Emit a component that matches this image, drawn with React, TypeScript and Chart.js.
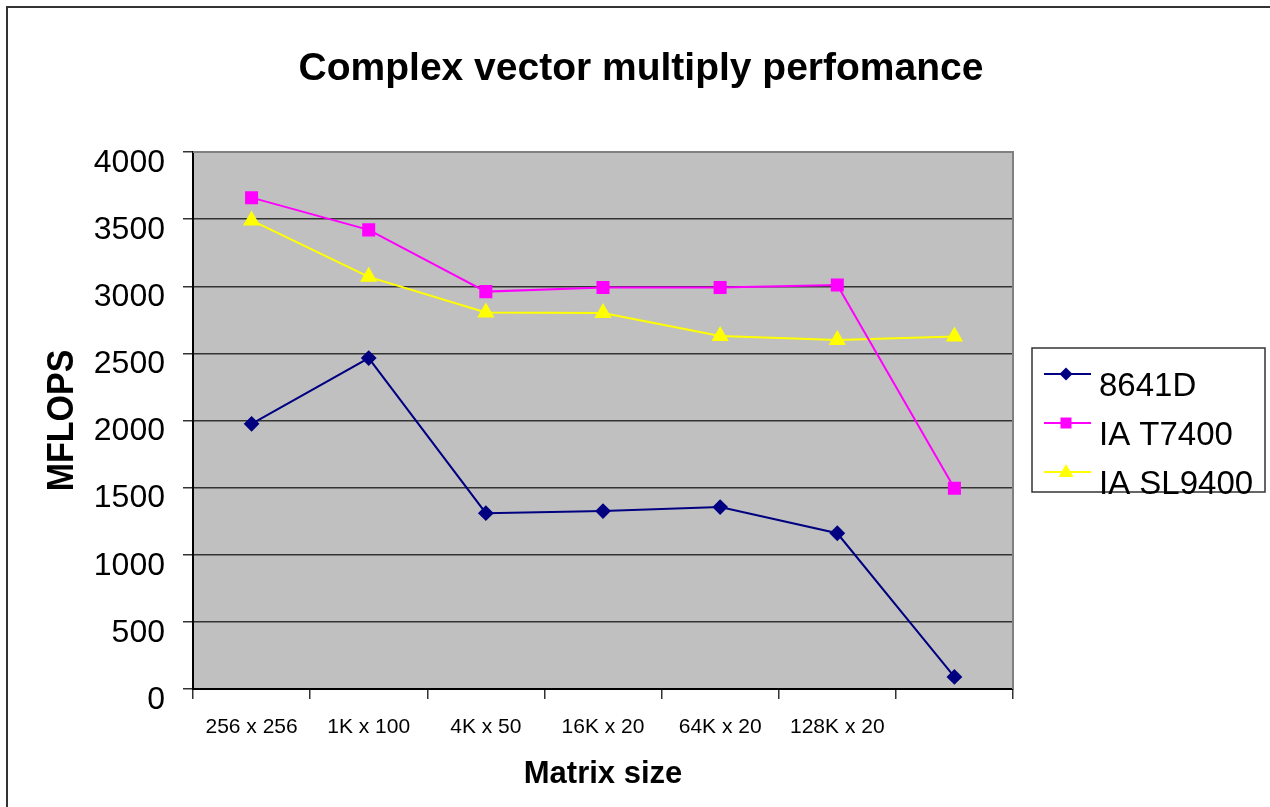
import React, { useEffect, useRef } from "react";
import { Chart, registerables } from "chart.js";

Chart.register(...registerables);

const categories = ["256 x 256", "1K x 100", "4K x 50", "16K x 20", "64K x 20", "128K x 20", ""];
const series8641D = [1975, 2465, 1310, 1325, 1355, 1160, 90];
const seriesT7400 = [3660, 3420, 2960, 2990, 2990, 3010, 1495];
const seriesSL9400 = [3490, 3070, 2805, 2800, 2630, 2600, 2625];
const seriesNames = ["8641D", "IA T7400", "IA SL9400"];
const yTicks = [0, 500, 1000, 1500, 2000, 2500, 3000, 3500, 4000];

const chartTitle = "Complex vector multiply perfomance";
const yTitle = "MFLOPS";
const xTitle = "Matrix size";

const FONT = "'Liberation Sans', Arial, sans-serif";

const decorPlugin = {
  id: "decor",
  beforeDraw(chart: any) {
    const { ctx, chartArea } = chart;
    const { left, right, top, bottom } = chartArea;
    ctx.save();
    ctx.fillStyle = "#ffffff";
    ctx.fillRect(0, 0, chart.width, chart.height);
    ctx.fillStyle = "#C0C0C0";
    ctx.fillRect(left, top, right - left, bottom - top);
    // outer frame
    ctx.strokeStyle = "#333333";
    ctx.lineWidth = 2;
    ctx.strokeRect(7, 7, chart.width + 50, chart.height + 50);
    ctx.restore();
  },
  afterDraw(chart: any) {
    const { ctx, chartArea } = chart;
    const { left, right, top, bottom } = chartArea;
    ctx.save();
    // plot area top/right border
    ctx.strokeStyle = "#808080";
    ctx.lineWidth = 2;
    ctx.beginPath();
    ctx.moveTo(left, top);
    ctx.lineTo(right, top);
    ctx.lineTo(right, bottom);
    ctx.stroke();

    ctx.fillStyle = "#000";
    ctx.textAlign = "center";
    ctx.textBaseline = "middle";
    ctx.font = `bold 39px ${FONT}`;
    ctx.fillText(chartTitle, 641, 69);

    ctx.font = `bold 31px ${FONT}`;
    ctx.fillText(xTitle, (left + right) / 2, 774);

    ctx.save();
    ctx.translate(63, (top + bottom) / 2);
    ctx.rotate(-Math.PI / 2);
    ctx.scale(1, 1.1);
    ctx.font = `bold 34px ${FONT}`;
    ctx.fillText(yTitle, 0, 0);
    ctx.restore();

    // legend
    const bx = 1032, by = 348, bw = 233, bh = 144;
    ctx.fillStyle = "#ffffff";
    ctx.fillRect(bx, by, bw, bh);
    ctx.strokeStyle = "#333";
    ctx.lineWidth = 1.5;
    ctx.strokeRect(bx, by, bw, bh);
    const lineYs = [374, 423, 472];
    chart.data.datasets.forEach((ds: any, i: number) => {
      const ly = lineYs[i];
      ctx.strokeStyle = ds.borderColor;
      ctx.lineWidth = 2;
      ctx.beginPath();
      ctx.moveTo(1044, ly);
      ctx.lineTo(1091, ly);
      ctx.stroke();
      ctx.fillStyle = ds.pointBackgroundColor;
      ctx.beginPath();
      const cx = 1066;
      if (ds.pointStyle === "rectRot") {
        ctx.moveTo(cx, ly - 6.5);
        ctx.lineTo(cx + 6.5, ly);
        ctx.lineTo(cx, ly + 6.5);
        ctx.lineTo(cx - 6.5, ly);
      } else if (ds.pointStyle === "rect") {
        ctx.rect(cx - 5.5, ly - 5.5, 11, 11);
      } else {
        ctx.moveTo(cx, ly - 8);
        ctx.lineTo(cx + 7.5, ly + 5);
        ctx.lineTo(cx - 7.5, ly + 5);
      }
      ctx.closePath();
      ctx.fill();
      ctx.fillStyle = "#000";
      ctx.textAlign = "left";
      ctx.textBaseline = "middle";
      ctx.font = `33px ${FONT}`;
      ctx.fillText(ds.label, 1099, ly + 13);
    });
    ctx.restore();
  },
};

export default function App() {
  const ref = useRef<HTMLCanvasElement | null>(null);
  useEffect(() => {
    if (!ref.current) return;
    const chart = new Chart(ref.current, {
      type: "line",
      data: {
        labels: categories,
        datasets: [
          {
            label: seriesNames[0],
            data: series8641D,
            borderColor: "#000080",
            backgroundColor: "#000080",
            pointBackgroundColor: "#000080",
            pointBorderColor: "#000080",
            pointStyle: "rectRot",
            pointRadius: 6.5,
            borderWidth: 2,
            tension: 0,
          },
          {
            label: seriesNames[1],
            data: seriesT7400,
            borderColor: "#FF00FF",
            backgroundColor: "#FF00FF",
            pointBackgroundColor: "#FF00FF",
            pointBorderColor: "#FF00FF",
            pointStyle: "rect",
            pointRadius: 7.8,
            borderWidth: 2,
            tension: 0,
          },
          {
            label: seriesNames[2],
            data: seriesSL9400,
            borderColor: "#FFFF00",
            backgroundColor: "#FFFF00",
            pointBackgroundColor: "#FFFF00",
            pointBorderColor: "#FFFF00",
            pointStyle: "triangle",
            pointRadius: 8,
            borderWidth: 2,
            tension: 0,
          },
        ],
      } as any,
      options: {
        responsive: false,
        animation: false,
        layout: { padding: { top: 152, right: 257, left: 0, bottom: 0 } },
        plugins: {
          legend: { display: false },
          title: { display: false },
          tooltip: { enabled: false },
        },
        scales: {
          x: {
            offset: true,
            afterFit: (scale: any) => {
              scale.height = 118;
            },
            grid: {
              offset: true,
              drawOnChartArea: false,
              drawTicks: true,
              tickLength: 10,
              color: "#333",
              lineWidth: 1.5,
            },
            border: { color: "#000", width: 2 },
            ticks: {
              color: "#000",
              font: { family: FONT, size: 21 },
              padding: 16,
              maxRotation: 0,
              autoSkip: false,
            },
          },
          y: {
            min: 0,
            max: 4000,
            afterFit: (scale: any) => {
              scale.width = 193;
            },
            afterBuildTicks: (scale: any) => {
              scale.ticks = yTicks.map((v) => ({ value: v }));
            },
            grid: {
              color: "#333",
              lineWidth: 1.5,
              tickLength: 10,
              tickColor: "#333",
            },
            border: { color: "#000", width: 2 },
            ticks: {
              color: "#000",
              font: { family: FONT, size: 32 },
              padding: 18,
              labelOffset: 11,
              callback: (v: any) => String(v),
            },
          },
        },
      } as any,
      plugins: [decorPlugin],
    });
    return () => chart.destroy();
  }, []);
  return (
    <div style={{ position: "fixed", left: 0, top: 0, width: 1270, height: 807, background: "#fff" }}>
      <canvas ref={ref} width={1270} height={807} style={{ display: "block", width: 1270, height: 807 }} />
    </div>
  );
}
